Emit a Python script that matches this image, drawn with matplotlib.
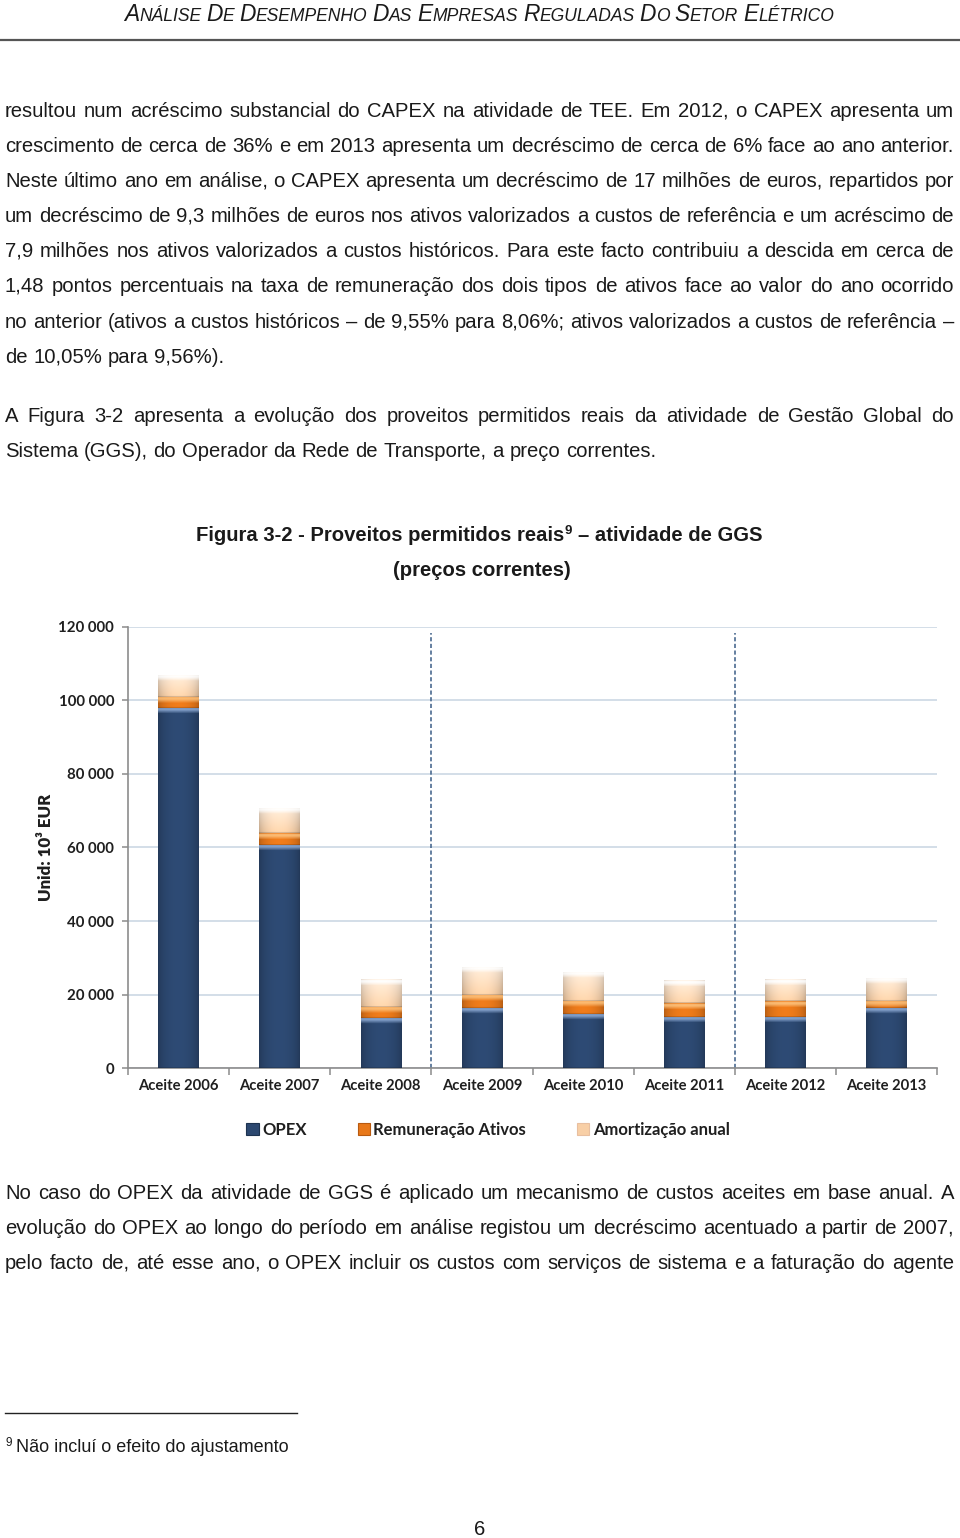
import math
import matplotlib
matplotlib.use('Agg')
import matplotlib.pyplot as plt
import numpy as np
from matplotlib import font_manager
from matplotlib.font_manager import FontProperties
from matplotlib.patches import Rectangle
from matplotlib.lines import Line2D
from matplotlib.colors import to_rgb
from matplotlib.ticker import FuncFormatter, FixedLocator
from matplotlib.backends.backend_agg import get_hinting_flag

# ---------------- data ----------------
categories = ['Aceite 2006', 'Aceite 2007', 'Aceite 2008', 'Aceite 2009',
              'Aceite 2010', 'Aceite 2011', 'Aceite 2012', 'Aceite 2013']
opex = [97800, 60600, 13700, 16300, 14700, 14000, 14000, 16300]
remun = [3000, 3200, 3000, 3600, 3600, 3700, 4300, 2000]
amort = [6100, 6800, 7500, 7700, 7900, 6200, 5900, 6300]
series_names = ['OPEX', 'Remuneração Ativos', 'Amortização anual']
y_ticks = [0, 20000, 40000, 60000, 80000, 100000, 120000]
period_starts = ['Aceite 2009', 'Aceite 2012']
y_label = 'Unid: 10³ EUR'

header_text = 'ANÁLISE DE DESEMPENHO DAS EMPRESAS REGULADAS DO SETOR ELÉTRICO'
para1 = [
    'resultou num acréscimo substancial do CAPEX na atividade de TEE. Em 2012, o CAPEX apresenta um',
    'crescimento de cerca de 36% e em 2013 apresenta um decréscimo de cerca de 6% face ao ano anterior.',
    'Neste último ano em análise, o CAPEX apresenta um decréscimo de 17 milhões de euros, repartidos por',
    'um decréscimo de 9,3 milhões de euros nos ativos valorizados a custos de referência e um acréscimo de',
    '7,9 milhões nos ativos valorizados a custos históricos. Para este facto contribuiu a descida em cerca de',
    '1,48 pontos percentuais na taxa de remuneração dos dois tipos de ativos face ao valor do ano ocorrido',
    'no anterior (ativos a custos históricos – de 9,55% para 8,06%; ativos valorizados a custos de referência –',
    'de 10,05% para 9,56%).',
]
para2 = [
    'A Figura 3-2 apresenta a evolução dos proveitos permitidos reais da atividade de Gestão Global do',
    'Sistema (GGS), do Operador da Rede de Transporte, a preço correntes.',
]
para3 = [
    'No caso do OPEX da atividade de GGS é aplicado um mecanismo de custos aceites em base anual. A',
    'evolução do OPEX ao longo do período em análise registou um decréscimo acentuado a partir de 2007,',
    'pelo facto de, até esse ano, o OPEX incluir os custos com serviços de sistema e a faturação do agente',
]
title_a = 'Figura 3-2 - Proveitos permitidos reais'
title_sup = '9'
title_b = '– atividade de GGS'
title_2 = '(preços correntes)'
footnote_num = '9'
footnote_text = 'Não incluí o efeito do ajustamento'
page_number = '6'

# ---------------- page setup ----------------
W, H = 960, 1538
fig = plt.figure(figsize=(W / 100, H / 100), dpi=100)
fig.patch.set_facecolor('white')
renderer = fig.canvas.get_renderer()

installed = {f.name for f in font_manager.fontManager.ttflist}
SANS = ['Liberation Sans', 'DejaVu Sans']
NARROW = ['Liberation Sans Narrow', 'Liberation Sans', 'DejaVu Sans'] if 'Liberation Sans Narrow' in installed else SANS
CHART = ['Lato', 'DejaVu Sans']
TXT = '#1a1a1a'
BODY = dict(family=SANS, size=14.6, color=TXT)


def fx(x):
    return x / W


def fy(y):
    return 1 - y / H


def tw(s, **kw):
    t = fig.text(0, 0, s, **kw)
    w = t.get_window_extent(renderer).width
    t.remove()
    return w


def space_w(**kw):
    return tw('a a', **kw) - tw('aa', **kw)


def baseline_fix(s, kw):
    """Compensate Agg's per-string pixel rounding so that separate words share one baseline."""
    try:
        prop = FontProperties(family=kw.get('family'), size=kw.get('size'),
                              weight=kw.get('weight', 'normal'),
                              style=kw.get('style', 'normal'))
        font = renderer._prepare_font(prop)
        font.set_text(s, 0, flags=get_hinting_flag())
        w26, h26 = font.get_width_height()
        desc = font.get_descent()
        ymax = h26 - desc
        A = math.floor(ymax / 64.0) - (int(h26) // 64)
        return -A - desc / 64.0
    except Exception:
        return 0.0


def place(s, x, y, **kw):
    yy = round(y) + baseline_fix(s, kw)
    fig.text(fx(x), fy(yy), s, ha='left', va='baseline', **kw)


def put_line(text, y, x0=5, x1=954, justify=True, **kw):
    words = text.split(' ')
    widths = [tw(w, **kw) for w in words]
    if justify and len(words) > 1:
        gap = (x1 - x0 - sum(widths)) / (len(words) - 1)
    else:
        gap = space_w(**kw)
    x = x0
    for w, wd in zip(words, widths):
        place(w, x, y, **kw)
        x += wd + gap


def put_runs(runs, x, y, align='left'):
    # runs: (text, kw, dy_px, gap_after_px)
    widths = [tw(t, **kw) for t, kw, dy, g in runs]
    total = sum(widths) + sum(g for _, _, _, g in runs[:-1])
    if align == 'center':
        x = x - total / 2
    for (t, kw, dy, g), wd in zip(runs, widths):
        place(t, x, y - dy, **kw)
        x += wd + g
    return total


# ---------------- header ----------------
def header_runs(big, small):
    kb = dict(family=NARROW, size=big, style='italic', color=TXT)
    ks = dict(family=NARROW, size=small, style='italic', color=TXT)
    sp = space_w(**kb) * 0.8
    runs = []
    words = header_text.split(' ')
    for i, w in enumerate(words):
        g = sp if i < len(words) - 1 else 0
        if len(w) > 1:
            runs.append((w[0], kb, 0, 0))
            runs.append((w[1:], ks, 0, g))
        else:
            runs.append((w, kb, 0, g))
    return runs


big0, small0 = 13.0, 10.0
r0 = header_runs(big0, small0)
tot0 = sum(tw(t, **kw) for t, kw, _, _ in r0) + sum(g for _, _, _, g in r0[:-1])
scale = 710 / tot0
put_runs(header_runs(big0 * scale, small0 * scale), 479, 21, align='center')
fig.add_artist(Line2D([0, 1], [fy(40), fy(40)], transform=fig.transFigure,
                      color='#555555', lw=1.6))

# ---------------- body text ----------------
y = 117
for i, line in enumerate(para1):
    put_line(line, y, justify=(i < len(para1) - 1), **BODY)
    y += 35.1
y = 422
for i, line in enumerate(para2):
    put_line(line, y, justify=(i < len(para2) - 1), **BODY)
    y += 35.1
y = 1199
for line in para3:
    put_line(line, y, justify=True, **BODY)
    y += 35.1

# ---------------- figure title ----------------
TB = dict(family=SANS, size=14.6, weight='bold', color=TXT)
TS = dict(family=SANS, size=9.5, weight='bold', color=TXT)
put_runs([(title_a, TB, 0, 1), (title_sup, TS, 7, space_w(**TB)), (title_b, TB, 0, 0)],
         479, 541, align='center')
put_runs([(title_2, TB, 0, 0)], 482, 576, align='center')

# ---------------- chart ----------------
ax_l, ax_r, ax_t, ax_b = 128, 937, 626.5, 1068.3
ax = fig.add_axes([fx(ax_l), fy(ax_b), (ax_r - ax_l) / W, (ax_b - ax_t) / H])
x = np.arange(len(categories))
ax.set_xlim(-0.5, len(categories) - 0.5)
ax.set_ylim(0, 120000)

bw = 0.4
colors = ['#2c4870', '#e8781a', '#f8cfa6']
hls = ['#89a6d0', '#fcc07a', '#ffffff']
bottoms = np.zeros(len(categories))
containers = []
for vals, c in zip([opex, remun, amort], colors):
    bc = ax.bar(x, vals, bw, bottom=bottoms, color=c, zorder=2, linewidth=0)
    containers.append(bc)
    bottoms = bottoms + np.array(vals)


def shade(rect, color, hl, vertical=False):
    x0, y0 = rect.get_x(), rect.get_y()
    w, h = rect.get_width(), rect.get_height()
    p0 = ax.transData.transform((x0, y0))
    p1 = ax.transData.transform((x0 + w, y0 + h))
    nx = max(int(round(p1[0] - p0[0])), 2)
    ny = max(int(round(p1[1] - p0[1])), 2)
    t = (np.arange(nx) + 0.5) / nx
    f = 0.74 + 0.30 * np.sin(np.pi * t) ** 0.5
    base = np.array(to_rgb(color))
    img = np.ones((ny, nx, 3)) * base[None, None, :] * f[None, :, None]
    if vertical:
        v = (np.arange(ny) + 0.5) / ny
        a = (0.6 * v)[:, None, None]
        img = img * (1 - a) + np.ones(3)[None, None, :] * f[None, :, None] ** 0.3 * a
    img[0] = img[0] * 0.85
    hc = np.array(to_rgb(hl))
    blend = [0.35, 0.85, 0.9, 0.75, 0.5, 0.25]
    for k, b in enumerate(blend):
        if k < ny:
            r = ny - 1 - k
            img[r] = img[r] * (1 - b) + (hc[None, :] * (0.88 + 0.12 * f[:, None])) * b
    img = np.clip(img, 0, 1)
    im = ax.imshow(img, extent=(x0, x0 + w, y0, y0 + h), origin='lower',
                   aspect='auto', interpolation='bilinear', zorder=3)
    im.set_clip_path(rect)


for k, (bc, c, hl) in enumerate(zip(containers, colors, hls)):
    for rect in bc:
        shade(rect, c, hl, vertical=(k == 2))

ax.set_xlim(-0.5, len(categories) - 0.5)
ax.set_ylim(0, 120000)

for p in period_starts:
    ax.axvline(categories.index(p) - 0.5, ymin=0, ymax=0.985, color='#4a6a90',
               lw=1.2, ls=(0, (2.5, 1.5)), zorder=1.5)

ax.set_axisbelow(True)
ax.yaxis.grid(True, color='#c8d4e2', lw=1.1)
ax.xaxis.grid(False)
for s in ['top', 'right']:
    ax.spines[s].set_visible(False)
for s in ['left', 'bottom']:
    ax.spines[s].set_color('#8c8c8c')
    ax.spines[s].set_linewidth(1.2)

ax.yaxis.set_major_locator(FixedLocator(y_ticks))
ax.yaxis.set_major_formatter(FuncFormatter(lambda v, p: f'{int(v):,}'.replace(',', ' ')))
ax.set_xticks(x)
ax.set_xticklabels(categories)
ax.xaxis.set_minor_locator(FixedLocator(np.arange(len(categories) + 1) - 0.5))
ax.tick_params(axis='x', which='major', length=0, pad=8)
ax.tick_params(axis='x', which='minor', length=5, color='#8c8c8c', width=1.1)
ax.tick_params(axis='y', which='major', length=4, color='#8c8c8c', width=1.1, pad=6)
for lab in ax.get_xticklabels():
    lab.set_fontfamily(CHART)
    lab.set_fontweight('bold')
    lab.set_fontsize(10.6)
    lab.set_color('#1f1f1f')
for lab in ax.get_yticklabels():
    lab.set_fontfamily(CHART)
    lab.set_fontweight('bold')
    lab.set_fontsize(10.8)
    lab.set_color('#1f1f1f')

fig.text(fx(46), fy(847), y_label, rotation=90, ha='center', va='center',
         family=CHART, weight='heavy', size=12.2, color='#1f1f1f')

handles = [Rectangle((0, 0), 1, 1, facecolor=c, edgecolor=e, lw=0.8)
           for c, e in zip(colors, ['#1d3350', '#b85a10', '#e8bfa0'])]
leg = fig.legend(handles, series_names, loc='center', bbox_to_anchor=(fx(488), fy(1130)),
                 ncol=3, frameon=False, handlelength=0.75, handleheight=0.75,
                 handletextpad=0.2, columnspacing=3.05,
                 prop=dict(family=CHART, weight='bold', size=12))
for t in leg.get_texts():
    t.set_color('#1f1f1f')

# ---------------- footnote ----------------
fig.add_artist(Line2D([fx(5), fx(297)], [fy(1413), fy(1413)], transform=fig.transFigure,
                      color='#222222', lw=1.0))
FN = dict(family=SANS, size=13, color=TXT)
FS = dict(family=SANS, size=8.5, color=TXT)
put_runs([(footnote_num, FS, 6, 4), (footnote_text, FN, 0, 0)], 5, 1452)
put_runs([(page_number, BODY, 0, 0)], 480, 1535, align='center')

fig.savefig('out.png', dpi=100, facecolor='white')
